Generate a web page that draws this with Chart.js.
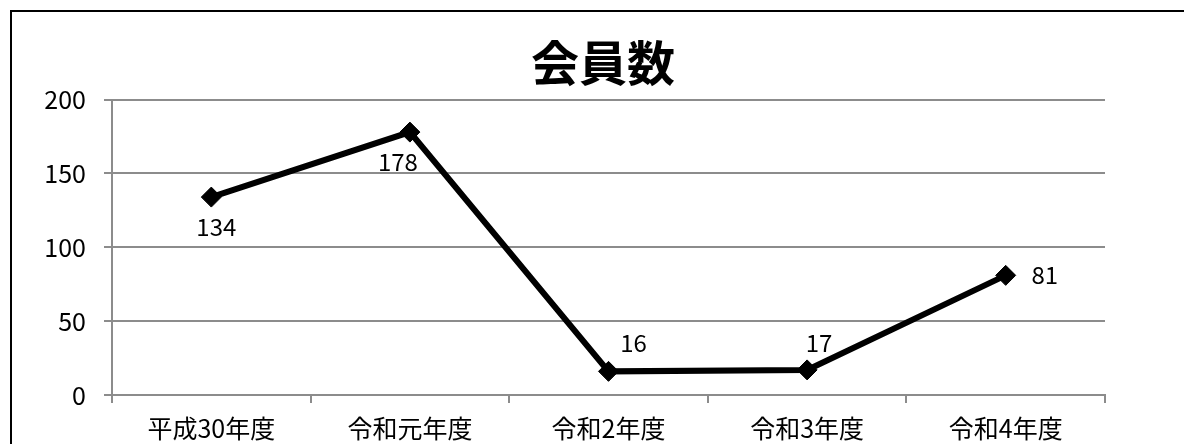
<!DOCTYPE html>
<html>
<head>
<meta charset="utf-8">
<script src="https://cdn.jsdelivr.net/npm/chart.js@4"></script>
<style>
html,body{margin:0;padding:0;background:#fff;}
#wrap{width:1184px;height:444px;position:relative;}
</style>
</head>
<body>
<div id="wrap"><canvas id="c" width="1184" height="444"></canvas></div>
<script>
const categories = ["平成30年度", "令和元年度", "令和2年度", "令和3年度", "令和4年度"];
const memberCounts = [134, 178, 16, 17, 81];
const yTicks = [0, 50, 100, 150, 200];
const chartTitle = "会員数";

const FONT = "'Noto Sans CJK JP', 'Noto Sans', sans-serif";

// offsets of each value label from its point (style only)
const labelOffsets = [[5, 30], [-12, 30], [25, -28], [12, -27], [39, 0]];

const frame = {
  id: 'frame',
  beforeDraw(chart) {
    const ctx = chart.ctx;
    ctx.save();
    ctx.fillStyle = '#fff';
    ctx.fillRect(0, 0, chart.width, chart.height);
    ctx.strokeStyle = '#000';
    ctx.lineWidth = 2;
    ctx.strokeRect(11, 11, 1400, 800);
    ctx.restore();
  }
};

const valueLabels = {
  id: 'valueLabels',
  afterDatasetsDraw(chart) {
    const ctx = chart.ctx;
    const meta = chart.getDatasetMeta(0);
    ctx.save();
    ctx.font = "24px " + FONT;
    ctx.fillStyle = '#000';
    ctx.textAlign = 'center';
    ctx.textBaseline = 'middle';
    meta.data.forEach((pt, i) => {
      const o = labelOffsets[i] || [0, 0];
      ctx.fillText(String(chart.data.datasets[0].data[i]), pt.x + o[0], pt.y + o[1]);
    });
    ctx.restore();
  }
};

new Chart(document.getElementById('c'), {
  type: 'line',
  data: {
    labels: categories,
    datasets: [{
      data: memberCounts,
      yAxisID: 'y',
      borderColor: '#000',
      backgroundColor: '#000',
      borderWidth: 6,
      tension: 0,
      pointStyle: 'rectRot',
      pointRadius: 10,
      pointHoverRadius: 10,
      pointBackgroundColor: '#000',
      pointBorderColor: '#000',
      pointBorderWidth: 1
    }]
  },
  options: {
    responsive: false,
    animation: false,
    events: [],
    layout: { padding: { left: 22, right: 0, top: 0, bottom: 0 } },
    plugins: {
      legend: { display: false },
      tooltip: { enabled: false },
      title: {
        display: true,
        text: chartTitle,
        color: '#000',
        font: { family: FONT, size: 48, weight: 'bold', lineHeight: 1.2 },
        padding: { top: 34, bottom: 8 }
      }
    },
    scales: {
      x: {
        type: 'category',
        offset: true,
        afterFit(scale) { scale.height = 49; },
        grid: {
          offset: true,
          drawOnChartArea: false,
          drawTicks: true,
          tickLength: 8,
          color: '#8c8c8c',
          lineWidth: 2
        },
        border: { display: true, color: '#8c8c8c', width: 2 },
        ticks: {
          color: '#000',
          padding: 10,
          maxRotation: 0,
          autoSkip: false,
          font: { family: FONT, size: 25 }
        }
      },
      y: {
        position: 'left',
        min: 0,
        max: 200,
        afterFit(scale) { scale.width = 90; },
        afterBuildTicks(scale) { scale.ticks = yTicks.map(v => ({ value: v })); },
        grid: {
          drawTicks: true,
          tickLength: 8,
          color: '#8c8c8c',
          lineWidth: 2
        },
        border: { display: true, color: '#8c8c8c', width: 2 },
        ticks: {
          color: '#000',
          padding: 18,
          font: { family: FONT, size: 25 }
        }
      },
      yR: {
        position: 'right',
        display: true,
        min: 0,
        max: 200,
        afterFit(scale) { scale.width = 79; },
        grid: { display: false, drawTicks: false },
        border: { display: false },
        ticks: { display: false }
      }
    }
  },
  plugins: [frame, valueLabels]
});
</script>
</body>
</html>
